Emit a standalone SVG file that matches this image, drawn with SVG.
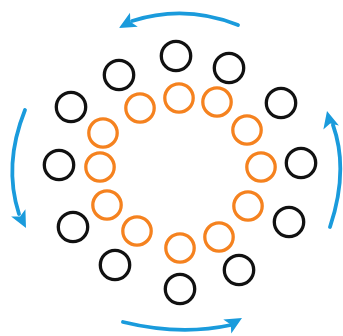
<svg xmlns="http://www.w3.org/2000/svg" xmlns:xlink="http://www.w3.org/1999/xlink" width="343" height="336" viewBox="0 0 343 336">
<style>
.b{fill:none;stroke:#111;stroke-width:3.3}
.o{fill:none;stroke:#F5821F;stroke-width:3.3}
.a{fill:none;stroke:#1A9BDC;stroke-width:3.8;stroke-linecap:round}
.h{fill:#1A9BDC}
</style>
<defs>
<path id="ah" d="M0,0 L-17,-8 L-13,0 L-17,8 Z"/>
</defs>
<rect width="343" height="336" fill="#fff"/>
<g id="outer">
<circle id="b1" class="b" cx="176" cy="56" r="14.7"/>
<circle id="b2" class="b" cx="229" cy="68" r="14.7"/>
<circle id="b3" class="b" cx="281" cy="103" r="14.7"/>
<circle id="b4" class="b" cx="301" cy="163" r="14.7"/>
<circle id="b5" class="b" cx="289" cy="222" r="14.7"/>
<circle id="b6" class="b" cx="239" cy="270" r="14.7"/>
<circle id="b7" class="b" cx="180" cy="289" r="14.7"/>
<circle id="b8" class="b" cx="115" cy="265" r="14.7"/>
<circle id="b9" class="b" cx="73" cy="227" r="14.7"/>
<circle id="b10" class="b" cx="59" cy="165" r="14.7"/>
<circle id="b11" class="b" cx="71" cy="107" r="14.7"/>
<circle id="b12" class="b" cx="119" cy="75" r="14.7"/>
</g>
<g id="inner">
<circle id="o1" class="o" cx="179" cy="98" r="14.2"/>
<circle id="o2" class="o" cx="217" cy="102" r="14.2"/>
<circle id="o3" class="o" cx="247" cy="130" r="14.2"/>
<circle id="o4" class="o" cx="261" cy="167" r="14.2"/>
<circle id="o5" class="o" cx="248" cy="206" r="14.2"/>
<circle id="o6" class="o" cx="219" cy="237" r="14.2"/>
<circle id="o7" class="o" cx="180" cy="248" r="14.2"/>
<circle id="o8" class="o" cx="137" cy="231" r="14.2"/>
<circle id="o9" class="o" cx="107" cy="205" r="14.2"/>
<circle id="o10" class="o" cx="100" cy="167" r="14.2"/>
<circle id="o11" class="o" cx="103" cy="133" r="14.2"/>
<circle id="o12" class="o" cx="140" cy="108" r="14.2"/>
</g>
<g id="connectors">
<path class="a" d="M238,25 Q185,4 132,21"/>
<use xlink:href="#ah" class="h" transform="translate(119,28) rotate(151)"/>
<path class="a" d="M123,322 Q180,336 231,325"/>
<use xlink:href="#ah" class="h" transform="translate(242,318) rotate(-30)"/>
<path class="a" d="M25,110 Q3,165 19,214"/>
<use xlink:href="#ah" class="h" transform="translate(26,228) rotate(63)"/>
<path class="a" d="M330,227 Q349,170 333,125"/>
<use xlink:href="#ah" class="h" transform="translate(327,111) rotate(-104)"/>
</g>
</svg>
